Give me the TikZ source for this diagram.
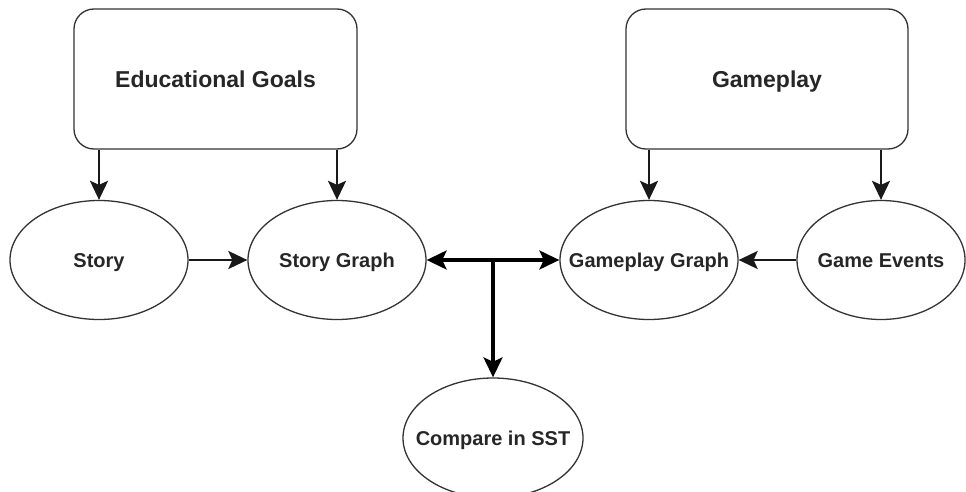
\documentclass[tikz,border=0pt]{standalone}
\usepackage{fontspec}
\setmainfont{Liberation Sans}
\usetikzlibrary{shapes.geometric,arrows.meta}
\begin{document}
\begin{tikzpicture}[x=1pt,y=-1pt,
  goalbox/.style={draw=black!80, line width=1.3pt, rounded corners=20pt,
    minimum width=283pt, minimum height=140pt, inner sep=0pt,
    text height=17pt, text depth=0pt,
    font=\fontsize{23}{27}\selectfont\bfseries, text=black!85},
  oval/.style={ellipse, draw=black!80, line width=1.3pt,
    inner xsep=-40pt, inner ysep=0pt,
    minimum width=178pt, minimum height=119pt,
    text height=15pt, text depth=0pt,
    font=\fontsize{20}{24}\selectfont\bfseries, text=black!85},
  arr/.style={draw=black!90, line width=2.4pt,
    -{Stealth[length=19pt,width=18pt,inset=4pt]}},
  thickarr/.style={draw=black, line width=3.4pt,
    {Stealth[length=20pt,width=19pt,inset=4.5pt]}-{Stealth[length=20pt,width=19pt,inset=4.5pt]}},
  branch/.style={draw=black, line width=3.4pt,
    -{Stealth[length=20pt,width=19pt,inset=4.5pt]}}]
  \useasboundingbox (0,0) rectangle (966,492);

  % top boxes
  \node[goalbox] (edu) at (215.5,79) {Educational Goals};
  \node[goalbox, minimum width=282pt] (gp) at (767,79) {Gameplay};

  % ellipses
  \node[oval] (sto) at (99,260) {Story};
  \node[oval] (sg) at (337,260) {Story Graph};
  \node[oval] (gg) at (649,260) {Gameplay Graph};
  \node[oval, minimum width=168pt] (ge) at (881,260) {Game Events};
  \node[oval, minimum width=180pt, minimum height=120pt] (cmp) at (493,438) {Compare in SST};

  % connectors from the boxes
  \draw[arr] (edu.south -| sto.north) -- (sto.north);
  \draw[arr] (edu.south -| sg.north) -- (sg.north);
  \draw[arr] (gp.south -| gg.north) -- (gg.north);
  \draw[arr] (gp.south -| ge.north) -- (ge.north);

  % horizontal connectors
  \draw[arr] (sto.east) -- (sg.west);
  \draw[arr] (ge.west) -- (gg.east);
  \draw[thickarr] (sg.east) -- (gg.west);

  % branch down to the comparison
  \coordinate (j) at (cmp.north |- sg.east);
  \draw[branch] (j) -- (cmp.north);
\end{tikzpicture}
\end{document}
